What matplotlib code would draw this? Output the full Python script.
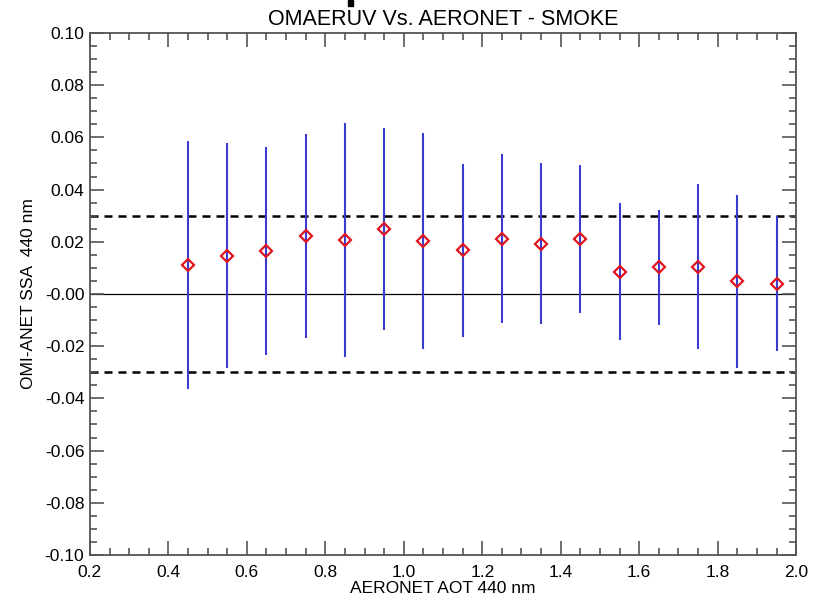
import numpy as np
import matplotlib
matplotlib.use("Agg")
import matplotlib.pyplot as plt
from matplotlib.ticker import MultipleLocator
from matplotlib.patches import Rectangle

plt.rcParams['font.family'] = ['Liberation Sans', 'DejaVu Sans']

# AOT bin centres, mean SSA difference and its spread
aot = [0.45, 0.55, 0.65, 0.75, 0.85, 0.95, 1.05, 1.15,
       1.25, 1.35, 1.45, 1.55, 1.65, 1.75, 1.85, 1.95]
ssa_diff = [0.0111, 0.0147, 0.0164, 0.0223, 0.0207, 0.0248, 0.0203, 0.0167,
            0.0212, 0.0192, 0.0210, 0.0085, 0.0102, 0.0105, 0.0049, 0.0040]
ssa_std = [0.0475, 0.0430, 0.0399, 0.0390, 0.0447, 0.0387, 0.0414, 0.0332,
           0.0324, 0.0308, 0.0284, 0.0262, 0.0221, 0.0316, 0.0331, 0.0260]

fig = plt.figure(figsize=(8.25, 6.07), dpi=100)
ax = fig.add_axes([0.109, 0.0857, 0.856, 0.860])

# reference lines
ax.axhline(0.0, color='black', lw=0.9, zorder=1)
ax.axhline(0.03, color='black', lw=1.8, linestyle=(0, (3.2, 2.4)), zorder=1)
ax.axhline(-0.03, color='black', lw=1.8, linestyle=(0, (3.2, 2.4)), zorder=1)

ax.errorbar(aot, ssa_diff, yerr=ssa_std, fmt='none', ecolor='#3b3bcf',
            elinewidth=1.5, capsize=0, zorder=2)
ax.plot(aot, ssa_diff, linestyle='none', marker='D', ms=6.2, mfc='none',
        mec='#e0141e', mew=1.6, zorder=3)

ax.set_xlim(0.2, 2.0)
ax.set_ylim(-0.10, 0.10)
ax.xaxis.set_major_locator(MultipleLocator(0.2))
ax.xaxis.set_minor_locator(MultipleLocator(0.05))
ax.yaxis.set_major_locator(MultipleLocator(0.02))
ax.yaxis.set_minor_locator(MultipleLocator(0.005))
ax.xaxis.set_major_formatter(plt.FormatStrFormatter('%.1f'))
ax.yaxis.set_major_formatter(plt.FormatStrFormatter('%.2f'))

ax.tick_params(which='both', direction='in', top=True, right=True,
               color='#555555', width=1.2, labelsize=12.5, labelcolor='black')
ax.tick_params(which='major', length=10, pad=4)
ax.tick_params(which='minor', length=5)
ax.tick_params(axis='x', which='major', pad=7)
for s in ax.spines.values():
    s.set_color('#555555')
    s.set_linewidth(1.3)

ax.set_title('OMAERUV Vs. AERONET - SMOKE', fontsize=15.5, pad=6)
ax.set_xlabel('AERONET AOT 440 nm', fontsize=12.5, labelpad=1)
ax.set_ylabel('OMI-ANET SSA  440 nm', fontsize=12.5, labelpad=6)

# small black mark above the title
fig.patches.append(Rectangle((348 / 825, 1 - 6 / 607), 5 / 825, 6 / 607,
                             transform=fig.transFigure, color='black'))

fig.savefig('out.png', dpi=100)
